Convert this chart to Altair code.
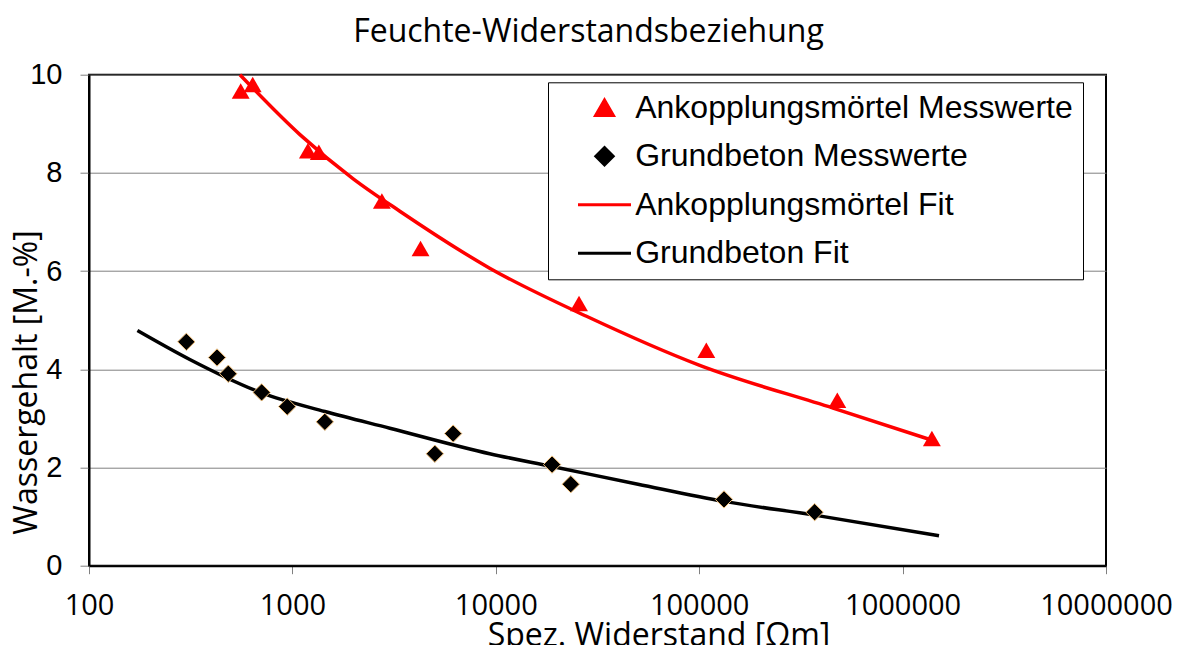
import altair as alt
import pandas as pd

# ---- data ----
series = ["Ankopplungsmörtel Messwerte", "Grundbeton Messwerte",
          "Ankopplungsmörtel Fit", "Grundbeton Fit"]

r_mortar = [557, 638, 1192, 1349, 2754, 4266, 25650, 108400, 477600, 1393000]
w_mortar = [9.67, 9.80, 8.45, 8.42, 7.43, 6.46, 5.34, 4.39, 3.37, 2.59]

r_beton = [301, 426, 484, 706, 943, 1444, 5015, 6170, 18910, 23370, 132400, 369500]
w_beton = [4.56, 4.24, 3.91, 3.53, 3.24, 2.93, 2.28, 2.69, 2.06, 1.66, 1.35, 1.09]

fit_r_mortar = [552, 1089, 1991, 3374, 9330, 27920, 100600, 455000, 1410000]
fit_w_mortar = [10.0, 8.78, 7.88, 7.22, 6.06, 5.08, 4.08, 3.21, 2.55]

fit_r_beton = [173, 313, 706, 1444, 3013, 9330, 18910, 50000, 132400, 369500, 1510000]
fit_w_beton = [4.79, 4.20, 3.52, 3.14, 2.80, 2.28, 2.02, 1.66, 1.31, 1.03, 0.61]

x_ticks = [100, 1000, 10000, 100000, 1000000, 10000000]
y_ticks = [0, 2, 4, 6, 8, 10]

colors = ["#FF0000", "#000000", "#FF0000", "#000000"]
shapes = ["triangle-up", "diamond", "stroke", "stroke"]
sizes = [320, 300, 2809, 2809]

df_tri = pd.DataFrame({"R": r_mortar, "W": w_mortar, "S": series[0]})
df_dia = pd.DataFrame({"R": r_beton, "W": w_beton, "S": series[1]})
df_fit = pd.concat([
    pd.DataFrame({"R": fit_r_mortar, "W": fit_w_mortar, "S": series[2], "o": range(len(fit_r_mortar))}),
    pd.DataFrame({"R": fit_r_beton, "W": fit_w_beton, "S": series[3], "o": range(len(fit_r_beton))}),
])

x_enc = alt.X("R:Q",
              scale=alt.Scale(type="log", domain=[100, 10000000], nice=False),
              axis=alt.Axis(values=x_ticks, format="d", title="Spez. Widerstand [Ωm]",
                            labelFont="Open Sans", labelFontSize=29, labelColor="black",
                            labelPadding=18, tickSize=8, tickColor="#808080", tickWidth=1,
                            labelFlush=False, labelOverlap=False, grid=False,
                            domain=True, domainColor="black", domainWidth=2,
                            titleFont="Open Sans", titleFontSize=32, titleFontWeight="normal",
                            titleColor="black", titleX=569.5, titleY=55,
                            titleAlign="center", titleBaseline="top"))
y_enc = alt.Y("W:Q",
              scale=alt.Scale(domain=[0, 10], nice=False),
              axis=alt.Axis(values=y_ticks, title="Wassergehalt [M.-%]",
                            labelFont="Liberation Sans", labelFontSize=29, labelColor="black",
                            labelPadding=18, tickSize=9, tickColor="#808080", tickWidth=1,
                            grid=True, gridColor="#808080", gridWidth=1,
                            domain=True, domainColor="black", domainWidth=2,
                            titleFont="Open Sans", titleFontSize=32, titleFontWeight="normal",
                            titleColor="black", titleAngle=270, titleX=-46, titleY=307.3,
                            titleAlign="center", titleBaseline="bottom"))

legend_common = dict(
    title=None, orient="none", legendX=459, legendY=7.6, padding=10,
    fillColor="white", strokeColor="black",
    labelFont="Liberation Sans", labelFontSize=32, labelColor="black", labelLimit=0,
    symbolOffset=18.5, labelOffset=2.7, symbolStrokeWidth=3, symbolOpacity=1,
)

color_enc = alt.Color("S:N", scale=alt.Scale(domain=series, range=colors),
                      legend=alt.Legend(**legend_common))
shape_enc = alt.Shape("S:N", scale=alt.Scale(domain=series, range=shapes),
                      legend=alt.Legend(**legend_common))
size_enc = alt.Size("S:N", scale=alt.Scale(type="ordinal", domain=series, range=sizes),
                    legend=alt.Legend(**legend_common))

lines = alt.Chart(df_fit).mark_line(strokeWidth=3.5, interpolate="monotone").encode(
    x=x_enc, y=y_enc, color=color_enc, order="o:Q")

tris = alt.Chart(df_tri).mark_point(filled=True, opacity=1, strokeWidth=0).encode(
    x=x_enc, y=y_enc, color=color_enc, shape=shape_enc, size=size_enc)

dias = alt.Chart(df_dia).mark_point(filled=True, opacity=1, stroke="#F2C07A", strokeWidth=1).encode(
    x=x_enc, y=y_enc, color=color_enc, shape=shape_enc, size=size_enc)

chart = alt.layer(lines, tris, dias).properties(
    width=1017,
    height=491,
    background="white",
    autosize=alt.AutoSizeParams(type="none"),
    padding={"left": 81, "top": 66.7, "right": 73, "bottom": 79.3},
    title=alt.TitleParams("Feuchte-Widerstandsbeziehung", font="Open Sans", fontSize=32,
                          fontWeight="normal", color="black", anchor="middle",
                          frame="group", dx=-9, offset=12),
).configure_view(
    stroke="black", strokeWidth=2
).configure_legend(
    strokeWidth=1, cornerRadius=0, rowPadding=15.5, clipHeight=31,
)

chart.save("out.html", embed_options={"renderer": "svg", "actions": False})
